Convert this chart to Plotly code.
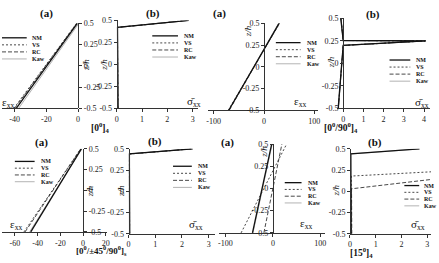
import plotly.graph_objects as go

W, H = 439, 263

# ---------------- data ----------------
models = ["NM", "VS", "RC", "Kaw"]
z_ticks = [-0.5, -0.25, 0, 0.25, 0.5]
z_tick_text = ["-0.5", "-0.25", "0", "0.25", "0.5"]

# [0]4  (a) strain
z_a1 = [-0.5, 0.5]
eps_a1 = {"NM": [-39.0, -0.5], "VS": [-40.5, -1.0], "RC": [-40.0, -0.8], "Kaw": [-37.5, 0.5]}
# [0]4  (b) stress
z_b1 = {"NM": [-0.5, 0.42, 0.5], "VS": [-0.5, 0.42, 0.5], "RC": [-0.5, 0.42, 0.5], "Kaw": [-0.5, 0.42, 0.5]}
sig_b1 = {"NM": [0.05, 0.03, 2.85], "VS": [0.05, 0.03, 2.8], "RC": [0.05, 0.03, 2.8], "Kaw": [0.06, 0.04, 2.85]}

# [0/90]4 (a) strain
z_a2 = [-0.5, 0.5]
eps_a2 = {"NM": [-70.0, 30.0], "VS": [-71.0, 31.0], "RC": [-69.0, 30.0], "Kaw": [-70.0, 29.0]}
# [0/90]4 (b) stress
z_b2 = {"NM": [-0.5, 0.2, 0.25, 0.255, 0.5], "VS": [-0.5, 0.2, 0.25, 0.255, 0.5],
        "RC": [-0.5, 0.2, 0.25, 0.255, 0.5], "Kaw": [-0.5, 0.2, 0.25, 0.255, 0.5]}
sig_b2 = {"NM": [-0.25, 0.0, 4.1, 0.0, -0.12], "VS": [-0.24, 0.0, 4.05, 0.0, -0.11],
          "RC": [-0.24, 0.0, 4.05, 0.0, -0.11], "Kaw": [-0.23, 0.0, 4.1, 0.0, -0.1]}

# [0/±45/90]s (a) strain
z_a3 = [-0.5, 0.5]
eps_a3 = {"NM": [-46.0, -1.5], "VS": [-52.0, -2.0], "RC": [-51.0, -2.0], "Kaw": [-47.0, -1.0]}
# [0/±45/90]s (b) stress
z_b3 = {"NM": [-0.5, 0.44, 0.5], "VS": [-0.5, 0.44, 0.5], "RC": [-0.5, 0.44, 0.5], "Kaw": [-0.5, 0.44, 0.5]}
sig_b3 = {"NM": [0.04, 0.03, 2.4], "VS": [0.04, 0.03, 2.35], "RC": [0.04, 0.03, 2.35], "Kaw": [0.05, 0.04, 2.4]}

# [15]4 (a) strain
z_a4 = [-0.5, 0.5]
eps_a4 = {"NM": [-43.0, -2.5], "VS": [-67.0, 29.0], "RC": [-19.0, 19.0], "Kaw": [-42.0, -1.5]}
# [15]4 (b) stress
z_b4 = {"NM": [-0.5, 0.44, 0.5], "VS": [-0.5, 0.18, 0.23], "RC": [-0.5, 0.03, 0.14], "Kaw": [-0.5, 0.44, 0.5]}
sig_b4 = {"NM": [0.04, 0.03, 2.7], "VS": [0.06, 0.05, 3.15], "RC": [0.07, 0.06, 3.15], "Kaw": [0.05, 0.04, 2.7]}

strain_ticks = {1: [-40, -20, 0], 3: [-100, 0, 100], 5: [-60, -40, -20, 0, 20], 7: [-100, 0, 100]}
stress_ticks = {2: [0, 1, 2, 3], 4: [0, 1, 2, 3, 4], 6: [0, 1, 2, 3], 8: [0, 1, 2, 3]}

# ---------------- layout config (pixels) ----------------
panels = [
    dict(n=1, xd=(0, 77), xr=[-48, 0], yd=(20, 108), yx=77, side="right"),
    dict(n=2, xd=(116, 198), xr=[0, 3.2], yd=(17, 108), yx=116, side="left"),
    dict(n=3, xd=(208, 320), xr=[-112, 108], yd=(20, 110), yx=265, side="left"),
    dict(n=4, xd=(339, 433), xr=[-0.3, 4.3], yd=(15, 108), yx=345, side="left"),
    dict(n=5, xd=(0, 106), xr=[-71.3, 20.9], yd=(150, 236), yx=82, side="right"),
    dict(n=6, xd=(128, 215), xr=[0, 3.22], yd=(150, 238), yx=128, side="left"),
    dict(n=7, xd=(220, 327), xr=[-112.5, 110.4], yd=(145, 237), yx=274, side="left"),
    dict(n=8, xd=(352, 434), xr=[0, 3.15], yd=(150, 238), yx=352, side="left"),
]

styles = {
    "NM": dict(color="#111111", width=1.3, dash="solid"),
    "VS": dict(color="#333333", width=0.9, dash="2px,2px"),
    "RC": dict(color="#333333", width=0.9, dash="4px,2px"),
    "Kaw": dict(color="#a0a0a0", width=0.8, dash="solid"),
}
draw_order = ["Kaw", "RC", "VS", "NM"]

FONT = "Liberation Serif"


def px(x):
    return x / W


def py(y):
    return 1 - y / H


fig = go.Figure()

series = {
    1: (lambda m: eps_a1[m], lambda m: z_a1),
    2: (lambda m: sig_b1[m], lambda m: z_b1[m]),
    3: (lambda m: eps_a2[m], lambda m: z_a2),
    4: (lambda m: sig_b2[m], lambda m: z_b2[m]),
    5: (lambda m: eps_a3[m], lambda m: z_a3),
    6: (lambda m: sig_b3[m], lambda m: z_b3[m]),
    7: (lambda m: eps_a4[m], lambda m: z_a4),
    8: (lambda m: sig_b4[m], lambda m: z_b4[m]),
}

for p in panels:
    n = p["n"]
    sx = "" if n == 1 else str(n)
    fx, fz = series[n]
    for m in draw_order:
        fig.add_trace(go.Scatter(x=fx(m), y=fz(m), mode="lines", name=m, showlegend=False,
                                 line=styles[m], xaxis="x" + sx, yaxis="y" + sx))
    ticks = strain_ticks.get(n, stress_ticks.get(n))
    fig.layout["xaxis" + sx] = dict(
        domain=[px(p["xd"][0]), px(p["xd"][1])], range=p["xr"], anchor="y" + sx,
        showline=True, linecolor="#333", linewidth=1, showgrid=False, zeroline=False,
        ticks="outside", ticklen=3, tickcolor="#333", tickvals=ticks,
        ticktext=[str(t) for t in ticks], tickfont=dict(family=FONT, size=8, color="#222"),
    )
    fig.layout["yaxis" + sx] = dict(
        domain=[py(p["yd"][1]), py(p["yd"][0])], range=[-0.5, 0.5], anchor="free",
        position=px(p["yx"]), side=p["side"],
        showline=True, linecolor="#333", linewidth=1, showgrid=False, zeroline=False,
        ticks="outside", ticklen=3, tickcolor="#333", tickvals=z_ticks, ticktext=z_tick_text,
        tickfont=dict(family=FONT, size=8, color="#222"),
    )

ann = []


def text(x, y, t, size=9, bold=False, angle=0, xanchor="center", italic=False):
    s = t
    if bold:
        s = "<b>" + s + "</b>"
    if italic:
        s = "<i>" + s + "</i>"
    ann.append(dict(x=px(x), y=py(y), xref="paper", yref="paper", text=s, showarrow=False,
                    textangle=angle, xanchor=xanchor, yanchor="middle",
                    font=dict(family=FONT, size=size, color="#111")))


# panel titles
for (x, y, t) in [(45, 10, "(a)"), (153, 10, "(b)"), (220, 10, "(a)"), (375, 11, "(b)"),
                  (40, 143, "(a)"), (155, 142, "(b)"), (228, 143, "(a)"), (377, 143, "(b)")]:
    text(x, y, t, size=11, bold=True)

# laminate labels
text(99, 128, "[0<sup>0</sup>]<sub>4</sub>", size=9.5, bold=True)
text(343, 128, "[0<sup>0</sup>/90<sup>0</sup>]<sub>4</sub>", size=9.5, bold=True)
text(101, 255, "[0<sup>0</sup>/±45<sup>0</sup>/90<sup>0</sup>]<sub>s</sub>", size=9, bold=True)
text(364, 257, "[15<sup>0</sup>]<sub>4</sub>", size=9.5, bold=True)

# axis labels
eps_lbl = "ε<sub>xx</sub>"
sig_lbl = "σ\u0304<sub>xx</sub>"
for (x, y, t) in [(6, 102, eps_lbl), (194, 101, sig_lbl), (301, 101, eps_lbl), (425, 103, sig_lbl),
                  (14, 229, eps_lbl), (196, 229, sig_lbl), (308, 228, eps_lbl), (421, 229, sig_lbl)]:
    text(x, y, t, size=11)

for (x, y) in [(85, 63), (103, 63), (249, 28), (333, 60), (89, 194), (121, 194), (265, 153), (338, 193)]:
    text(x, y, "z/h", size=9, angle=-90, italic=True)

# legends (keys drawn as layout decorations)
legend_pos = [  # line x0, x1, text x, first y, step
    (0, 25, 28, 35, 7.3), (152, 178, 182, 33, 7.3), (277, 302, 306, 40, 7.3), (392, 413, 417, 58, 7.3),
    (13, 33, 37, 163, 7.0), (173, 192, 196, 168, 7.3), (286, 303, 307, 185, 7.0), (407, 422, 425, 188, 7.0),
]
shapes = []
for (x0, x1, tx, y0, dy) in legend_pos:
    for i, m in enumerate(models):
        yy = y0 + i * dy
        st = styles[m]
        shapes.append(dict(type="line", xref="paper", yref="paper", x0=px(x0), x1=px(x1),
                           y0=py(yy), y1=py(yy),
                           line=dict(color=st["color"], width=st["width"], dash=st["dash"])))
        text(tx, yy, m, size=6, bold=True, xanchor="left")

fig.update_layout(
    width=W, height=H, autosize=False, margin=dict(l=0, r=0, t=0, b=0),
    paper_bgcolor="white", plot_bgcolor="rgba(0,0,0,0)",
    annotations=ann, shapes=shapes, showlegend=False,
    font=dict(family=FONT, color="#222"),
)

fig.write_html("out.html")
